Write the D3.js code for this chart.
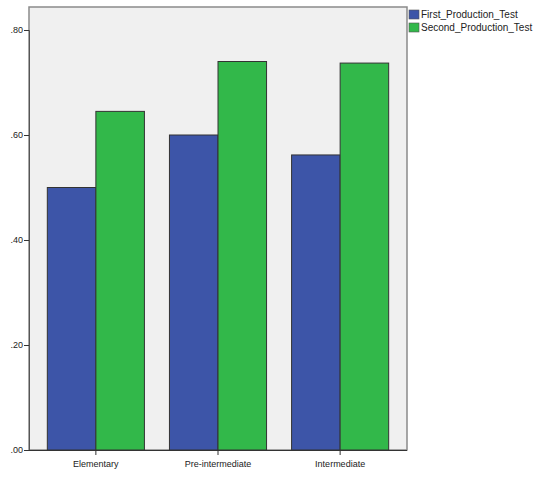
<!DOCTYPE html>
<html>
<head>
<meta charset="utf-8">
<script src="https://d3js.org/d3.v7.min.js"></script>
<style>
  body { margin: 0; background: #fff; }
  text { font-family: "Liberation Sans", Arial, sans-serif; font-size: 9px; fill: #222; }
</style>
</head>
<body>
<div id="chart"></div>
<script>
  // data
  const categories = ['Elementary', 'Pre-intermediate', 'Intermediate'];
  const seriesNames = ['First_Production_Test', 'Second_Production_Test'];
  const firstTest = [0.50, 0.60, 0.562];
  const secondTest = [0.645, 0.74, 0.737];
  const yTicks = [0, 0.2, 0.4, 0.6, 0.8];
  const colors = ['#3d55a8', '#32b84a'];

  const W = 535, H = 479;
  const plot = { left: 29, right: 407, top: 7, bottom: 450 };

  const svg = d3.select('#chart').append('svg')
    .attr('width', W).attr('height', H);

  // plot background + frame
  svg.append('rect')
    .attr('x', plot.left).attr('y', plot.top)
    .attr('width', plot.right - plot.left).attr('height', plot.bottom - plot.top)
    .attr('fill', '#f0f0f0')
    .attr('stroke', '#8a8a8a')
    .attr('stroke-width', 1.5);

  const x = d3.scaleBand()
    .domain(categories)
    .range([plot.left, plot.right])
    .paddingInner(0.205)
    .paddingOuter(0.15);

  const xs = d3.scaleBand()
    .domain(seriesNames)
    .range([0, x.bandwidth()]);

  const y = d3.scaleLinear()
    .domain([0, 0.8])
    .range([plot.bottom, 30]);

  const rows = categories.map((c, i) => ({ cat: c, vals: [firstTest[i], secondTest[i]] }));

  const groups = svg.selectAll('.grp')
    .data(rows)
    .enter().append('g')
    .attr('class', 'grp')
    .attr('transform', d => `translate(${x(d.cat)},0)`);

  groups.selectAll('rect')
    .data(d => d.vals.map((v, k) => ({ s: seriesNames[k], v: v, k: k })))
    .enter().append('rect')
    .attr('x', d => xs(d.s))
    .attr('y', d => y(d.v))
    .attr('width', xs.bandwidth())
    .attr('height', d => y(0) - y(d.v))
    .attr('fill', d => colors[d.k])
    .attr('stroke', '#333')
    .attr('stroke-width', 1);

  // y axis
  const yAxis = svg.append('g')
    .attr('transform', `translate(${plot.left},0)`)
    .call(d3.axisLeft(y).tickValues(yTicks).tickSize(5).tickPadding(1)
      .tickFormat(d => d3.format('.2f')(d).replace(/^0/, '')));
  yAxis.select('.domain').attr('stroke', '#555');
  yAxis.selectAll('.tick line').attr('stroke', '#333');
  yAxis.selectAll('text').style('font-size', '9px');

  // x axis
  const xAxis = svg.append('g')
    .attr('transform', `translate(0,${plot.bottom})`)
    .call(d3.axisBottom(x).tickSize(5).tickPadding(6).tickSizeOuter(0));
  xAxis.select('.domain').attr('stroke', '#333').attr('d', `M${plot.left - 3},0.5H${plot.right}`);
  xAxis.selectAll('.tick line').attr('stroke', '#333');
  xAxis.selectAll('text').style('font-size', '9px');

  // legend, to the right of the plot frame
  const legend = svg.append('g').attr('transform', 'translate(409,10)');
  const li = legend.selectAll('g')
    .data(seriesNames)
    .enter().append('g')
    .attr('transform', (d, i) => `translate(0,${i * 13})`);
  li.append('rect')
    .attr('width', 10).attr('height', 9)
    .attr('fill', (d, i) => colors[i])
    .attr('stroke', '#555').attr('stroke-width', 0.6);
  li.append('text')
    .attr('x', 12).attr('y', 8)
    .style('font-size', '10px')
    .text(d => d);
</script>
</body>
</html>
